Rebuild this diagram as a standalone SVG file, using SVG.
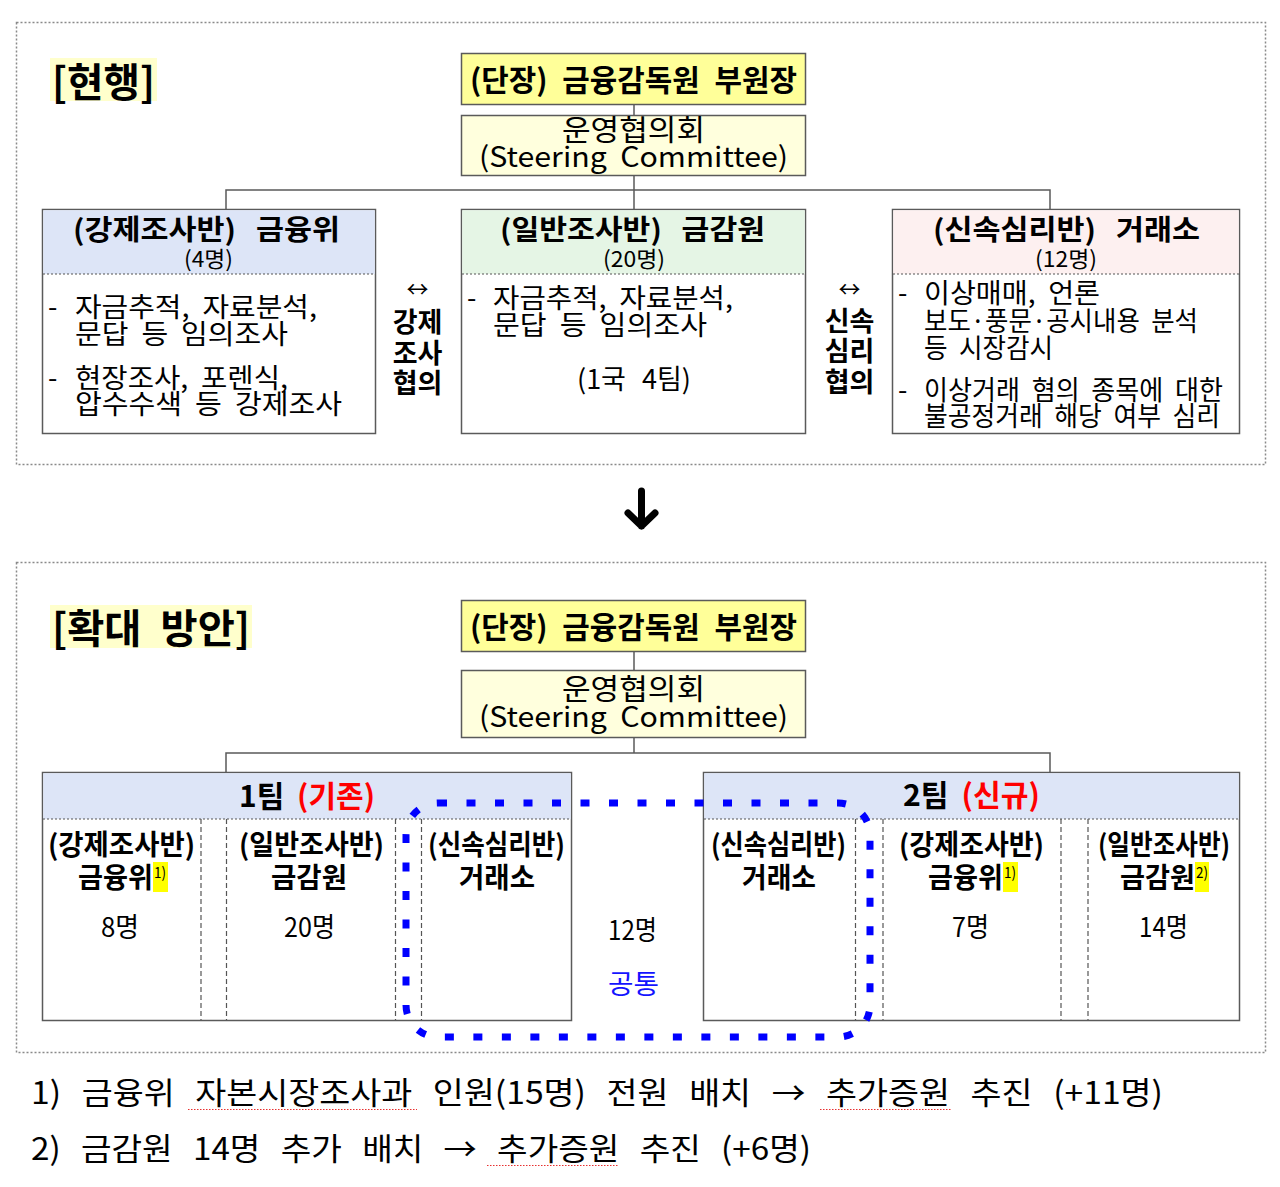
<svg xmlns="http://www.w3.org/2000/svg" width="1280" height="1187" viewBox="0 0 1280 1187">
<style>
text{font-family:"Noto Sans CJK KR","Noto Sans",sans-serif;fill:#000}
.b{font-weight:700}
.r{font-weight:400}
.box{stroke:#5a5a5a;stroke-width:1.5}
.outer{fill:none;stroke:#8a8a8a;stroke-width:1.5;stroke-dasharray:2 2}
.sep{stroke:#555;stroke-width:1.2;stroke-dasharray:2 2;fill:none}
.dash{stroke:#555;stroke-width:1.2;stroke-dasharray:5 3;fill:none}
.con{stroke:#5a5a5a;stroke-width:1.5;fill:none}
.red{fill:#ff0000}
.blue{fill:#1414ff}
.hl{fill:#ffffcc}
.sup{fill:#ffff00}
.sq{stroke:#e83030;stroke-width:1.2;stroke-dasharray:1.5 1.5;fill:none}
.body{font-size:27px;font-weight:400}
</style>

<!-- outer dotted frames -->
<rect class="outer" x="16.5" y="22.5" width="1249" height="442"/>
<rect class="outer" x="16.5" y="562.5" width="1249" height="490"/>

<!-- TOP SECTION -->
<g id="title-current">
<rect class="hl" x="50" y="58" width="107" height="43"/>
<text class="b" x="52" y="97" font-size="40" textLength="103" lengthAdjust="spacingAndGlyphs">[현행]</text>
</g>

<g id="connectors">
<line class="con" x1="634" y1="104" x2="634" y2="115"/>
<line class="con" x1="634" y1="175" x2="634" y2="209"/>
<polyline class="con" points="226,209 226,190 1050,190 1050,209"/>
<line class="con" x1="634" y1="652" x2="634" y2="670"/>
<line class="con" x1="634" y1="738" x2="634" y2="753"/>
<polyline class="con" points="226,772 226,753 1050,753 1050,772"/>
<path d="M641.5,491 V526 M628,513 L641.5,526 L655,513" fill="none" stroke="#000" stroke-width="7" stroke-linecap="round" stroke-linejoin="round"/>
</g>

<g id="head-top">
<rect class="box" x="461.5" y="53.5" width="344" height="51" fill="#ffff99"/>
<text class="b" x="470" y="91" font-size="30" word-spacing="8" textLength="327" lengthAdjust="spacingAndGlyphs">(단장) 금융감독원 부원장</text>
</g>

<g id="steering-top">
<rect class="box" x="461.5" y="115.5" width="344" height="60" fill="#ffffdd"/>
<text class="r" x="562" y="141" font-size="29" textLength="143" lengthAdjust="spacingAndGlyphs">운영협의회</text>
<text class="r" x="479" y="167" font-size="28" word-spacing="6" textLength="309" lengthAdjust="spacingAndGlyphs">(Steering Committee)</text>
</g>

<g id="fsc-top">
<rect class="box" x="42.5" y="209.5" width="333" height="224" fill="#ffffff"/>
<rect x="43.25" y="210.25" width="331.5" height="63.75" fill="#dde5f7"/>
<line class="sep" x1="43" y1="274" x2="375" y2="274"/>
<text class="b" x="73" y="240" font-size="28" word-spacing="12" textLength="267" lengthAdjust="spacingAndGlyphs">(강제조사반) 금융위</text>
<text class="r" x="184" y="267" font-size="22" textLength="49" lengthAdjust="spacingAndGlyphs">(4명)</text>
<text class="body" x="48" y="317">-</text>
<text class="body" x="75" y="317" word-spacing="6" textLength="242" lengthAdjust="spacingAndGlyphs">자금추적, 자료분석,</text>
<text class="body" x="75" y="344" word-spacing="6" textLength="213" lengthAdjust="spacingAndGlyphs">문답 등 임의조사</text>
<text class="body" x="48" y="388">-</text>
<text class="body" x="75" y="388" word-spacing="6" textLength="213" lengthAdjust="spacingAndGlyphs">현장조사, 포렌식,</text>
<text class="body" x="75" y="414" word-spacing="6" textLength="267" lengthAdjust="spacingAndGlyphs">압수수색 등 강제조사</text>
</g>

<g id="link-left">
<text class="r" x="417.5" y="297" font-size="22" text-anchor="middle">↔</text>
<text class="b" x="417.5" y="332" font-size="27" text-anchor="middle">강제</text>
<text class="b" x="417.5" y="363" font-size="27" text-anchor="middle">조사</text>
<text class="b" x="417.5" y="393" font-size="27" text-anchor="middle">협의</text>
</g>

<g id="fss-top">
<rect class="box" x="461.5" y="209.5" width="344" height="224" fill="#ffffff"/>
<rect x="462.25" y="210.25" width="342.5" height="63.75" fill="#e5f5e5"/>
<line class="sep" x1="462" y1="274" x2="805" y2="274"/>
<text class="b" x="500" y="240" font-size="28" word-spacing="12" textLength="265" lengthAdjust="spacingAndGlyphs">(일반조사반) 금감원</text>
<text class="r" x="603" y="267" font-size="22" textLength="62" lengthAdjust="spacingAndGlyphs">(20명)</text>
<text class="body" x="467" y="308">-</text>
<text class="body" x="493" y="308" word-spacing="6" textLength="240" lengthAdjust="spacingAndGlyphs">자금추적, 자료분석,</text>
<text class="body" x="493" y="335" word-spacing="6" textLength="214" lengthAdjust="spacingAndGlyphs">문답 등 임의조사</text>
<text class="body" x="577" y="389" word-spacing="10" textLength="114" lengthAdjust="spacingAndGlyphs">(1국 4팀)</text>
</g>

<g id="link-right">
<text class="r" x="849.5" y="297" font-size="22" text-anchor="middle">↔</text>
<text class="b" x="849.5" y="331" font-size="27" text-anchor="middle">신속</text>
<text class="b" x="849.5" y="361" font-size="27" text-anchor="middle">심리</text>
<text class="b" x="849.5" y="392" font-size="27" text-anchor="middle">협의</text>
</g>

<g id="krx-top">
<rect class="box" x="892.5" y="209.5" width="347" height="224" fill="#ffffff"/>
<rect x="893.25" y="210.25" width="345.5" height="63.75" fill="#fdf0f0"/>
<line class="sep" x1="893" y1="274" x2="1239" y2="274"/>
<text class="b" x="933" y="240" font-size="28" word-spacing="12" textLength="267" lengthAdjust="spacingAndGlyphs">(신속심리반) 거래소</text>
<text class="r" x="1035" y="267" font-size="22" textLength="62" lengthAdjust="spacingAndGlyphs">(12명)</text>
<text class="body" x="898" y="303">-</text>
<text class="body" x="924" y="303" word-spacing="6" textLength="176" lengthAdjust="spacingAndGlyphs">이상매매, 언론</text>
<text class="body" x="924" y="331" word-spacing="6" textLength="274" lengthAdjust="spacingAndGlyphs">보도·풍문·공시내용 분석</text>
<text class="body" x="924" y="358" word-spacing="6" textLength="129" lengthAdjust="spacingAndGlyphs">등 시장감시</text>
<text class="body" x="898" y="400">-</text>
<text class="body" x="924" y="400" word-spacing="6" textLength="299" lengthAdjust="spacingAndGlyphs">이상거래 혐의 종목에 대한</text>
<text class="body" x="924" y="426" word-spacing="6" textLength="296" lengthAdjust="spacingAndGlyphs">불공정거래 해당 여부 심리</text>
</g>

<!-- BOTTOM SECTION -->
<g id="title-plan">
<rect class="hl" x="50" y="605" width="202" height="43"/>
<text class="b" x="52" y="643" font-size="40" word-spacing="10" textLength="198" lengthAdjust="spacingAndGlyphs">[확대 방안]</text>
</g>

<g id="head-bottom">
<rect class="box" x="461.5" y="600.5" width="344" height="51" fill="#ffff99"/>
<text class="b" x="470" y="638" font-size="30" word-spacing="8" textLength="327" lengthAdjust="spacingAndGlyphs">(단장) 금융감독원 부원장</text>
</g>

<g id="steering-bottom">
<rect class="box" x="461.5" y="670.5" width="344" height="67" fill="#ffffdd"/>
<text class="r" x="562" y="700" font-size="29" textLength="143" lengthAdjust="spacingAndGlyphs">운영협의회</text>
<text class="r" x="479" y="727" font-size="28" word-spacing="6" textLength="309" lengthAdjust="spacingAndGlyphs">(Steering Committee)</text>
</g>

<g id="team1">
<rect class="box" x="42.5" y="772.5" width="529" height="248" fill="#ffffff"/>
<rect x="43.25" y="773.25" width="527.5" height="45.75" fill="#dde5f7"/>
<line class="sep" x1="43" y1="819" x2="571" y2="819"/>
<line class="dash" x1="201" y1="819" x2="201" y2="1020"/>
<line class="dash" x1="226.5" y1="819" x2="226.5" y2="1020"/>
<line class="dash" x1="395.5" y1="819" x2="395.5" y2="1020"/>
<line class="dash" x1="421.5" y1="819" x2="421.5" y2="1020"/>
<text class="b" x="239" y="807" font-size="30" word-spacing="6" textLength="136" lengthAdjust="spacingAndGlyphs">1팀 <tspan class="red">(기존)</tspan></text>
<text class="b" x="48" y="855" font-size="28" textLength="147" lengthAdjust="spacingAndGlyphs">(강제조사반)</text>
<text class="b" x="78" y="888" font-size="28" textLength="75" lengthAdjust="spacingAndGlyphs">금융위</text>
<rect class="sup" x="153" y="862" width="15" height="30"/>
<text class="r" x="154" y="878" font-size="15" textLength="12" lengthAdjust="spacingAndGlyphs">1)</text>
<text class="r" x="101" y="937" font-size="27" textLength="38" lengthAdjust="spacingAndGlyphs">8명</text>
<text class="b" x="239" y="855" font-size="28" textLength="145" lengthAdjust="spacingAndGlyphs">(일반조사반)</text>
<text class="b" x="271" y="888" font-size="28" textLength="76" lengthAdjust="spacingAndGlyphs">금감원</text>
<text class="r" x="284" y="937" font-size="27" textLength="51" lengthAdjust="spacingAndGlyphs">20명</text>
<text class="b" x="428" y="855" font-size="28" textLength="137" lengthAdjust="spacingAndGlyphs">(신속심리반)</text>
<text class="b" x="459" y="888" font-size="28" textLength="76" lengthAdjust="spacingAndGlyphs">거래소</text>
</g>

<g id="common">
<text class="r" x="608" y="940" font-size="27" textLength="49" lengthAdjust="spacingAndGlyphs">12명</text>
<text class="r blue" x="608" y="994" font-size="27" textLength="51" lengthAdjust="spacingAndGlyphs">공통</text>
</g>

<g id="team2">
<rect class="box" x="703.5" y="772.5" width="536" height="248" fill="#ffffff"/>
<rect x="704.25" y="773.25" width="534.5" height="45.75" fill="#dde5f7"/>
<line class="sep" x1="704" y1="819" x2="1239" y2="819"/>
<line class="dash" x1="855.5" y1="819" x2="855.5" y2="1020"/>
<line class="dash" x1="883" y1="819" x2="883" y2="1020"/>
<line class="dash" x1="1061" y1="819" x2="1061" y2="1020"/>
<line class="dash" x1="1088" y1="819" x2="1088" y2="1020"/>
<text class="b" x="903" y="806" font-size="30" word-spacing="6" textLength="137" lengthAdjust="spacingAndGlyphs">2팀 <tspan class="red">(신규)</tspan></text>
<text class="b" x="711" y="855" font-size="28" textLength="135" lengthAdjust="spacingAndGlyphs">(신속심리반)</text>
<text class="b" x="742" y="888" font-size="28" textLength="74" lengthAdjust="spacingAndGlyphs">거래소</text>
<text class="b" x="899" y="855" font-size="28" textLength="145" lengthAdjust="spacingAndGlyphs">(강제조사반)</text>
<text class="b" x="928" y="888" font-size="28" textLength="75" lengthAdjust="spacingAndGlyphs">금융위</text>
<rect class="sup" x="1003" y="862" width="15" height="30"/>
<text class="r" x="1004" y="878" font-size="15" textLength="12" lengthAdjust="spacingAndGlyphs">1)</text>
<text class="r" x="952" y="937" font-size="27" textLength="37" lengthAdjust="spacingAndGlyphs">7명</text>
<text class="b" x="1098" y="855" font-size="28" textLength="132" lengthAdjust="spacingAndGlyphs">(일반조사반)</text>
<text class="b" x="1120" y="888" font-size="28" textLength="75" lengthAdjust="spacingAndGlyphs">금감원</text>
<rect class="sup" x="1195" y="862" width="14" height="30"/>
<text class="r" x="1196" y="878" font-size="15" textLength="12" lengthAdjust="spacingAndGlyphs">2)</text>
<text class="r" x="1139" y="937" font-size="27" textLength="49" lengthAdjust="spacingAndGlyphs">14명</text>
</g>

<g id="shared-krx-outline">
<rect x="406" y="803" width="464" height="234" rx="32" ry="32" fill="none" stroke="#0000ff" stroke-width="7" stroke-dasharray="9 19.5"/>
</g>

<g id="footnotes">
<text class="r" x="31" y="1104" font-size="31" word-spacing="12" textLength="1132" lengthAdjust="spacingAndGlyphs">1) 금융위 자본시장조사과 인원(15명) 전원 배치 → 추가증원 추진 (+11명)</text>
<text class="r" x="31" y="1160" font-size="31" word-spacing="12" textLength="780" lengthAdjust="spacingAndGlyphs">2) 금감원 14명 추가 배치 → 추가증원 추진 (+6명)</text>
<line class="sq" x1="188" y1="1109.5" x2="417" y2="1109.5"/>
<line class="sq" x1="820" y1="1109.5" x2="952" y2="1109.5"/>
<line class="sq" x1="487" y1="1165.5" x2="619" y2="1165.5"/>
</g>
</svg>
